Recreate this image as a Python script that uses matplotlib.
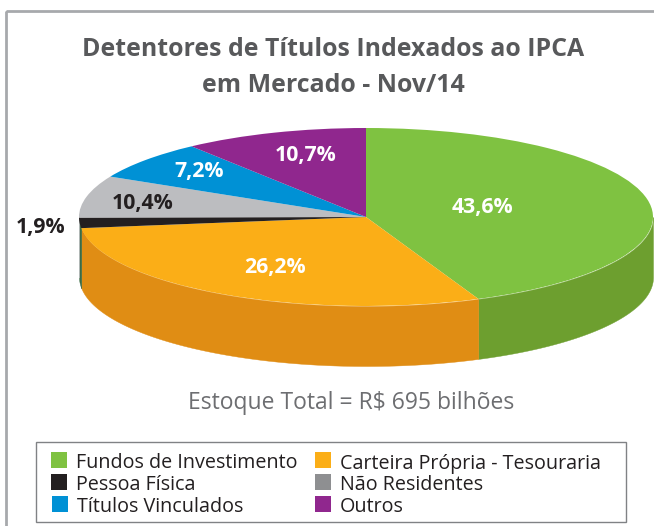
import numpy as np
import matplotlib
matplotlib.use("Agg")
import matplotlib.pyplot as plt
from matplotlib.patches import Rectangle

W = 654
H = 526

plt.rcParams['font.family'] = ['Open Sans', 'DejaVu Sans']

categorias = ["Fundos de Investimento", "Carteira Própria - Tesouraria", "Pessoa Física",
              "Não Residentes", "Títulos Vinculados", "Outros"]
rotulos = ["43,6%", "26,2%", "1,9%", "10,4%", "7,2%", "10,7%"]
# the slices in the picture are not quite proportional to the printed labels
fatias = [43.6, 29.4, 1.9, 7.6, 7.1, 10.4]
cores = ["#7FC241", "#FBAE17", "#231F20", "#BCBDC0", "#0091D5", "#90278E"]
cores_lateral = ["#6D9F2F", "#E08D14", "#3B6B45", "#BCBDC0", "#0091D5", "#90278E"]
cores_legenda = ["#7FC241", "#FBAE17", "#231F20", "#8E8F91", "#0091D5", "#90278E"]

fig = plt.figure(figsize=(W/100, H/100), dpi=100)

# background axes in pixels for frame, texts, legend
bg = fig.add_axes([0, 0, 1, 1])
bg.set_xlim(0, W)
bg.set_ylim(H, 0)
bg.axis('off')

bg.add_patch(Rectangle((6, 11), 720, 620, fill=False, ec="#A7A9AC", lw=2))

bg.text(333.5, 49, "Detentores de Títulos Indexados ao IPCA", ha='center', va='center',
        fontsize=17.9, fontweight='bold', color="#58595B")
bg.text(333.5, 85, "em Mercado - Nov/14", ha='center', va='center',
        fontsize=17.9, fontweight='bold', color="#58595B")
bg.text(351.5, 403, "Estoque Total = R$ 695 bilhões", ha='center', va='center',
        fontsize=16.5, color="#6D6E71")

# pie axes: unit circle squashed to the ellipse of the top face
px0, px1, py0, py1 = 79, 653, 128, 306
ax = fig.add_axes([px0/W, 1-py1/H, (px1-px0)/W, (py1-py0)/H])
ax.pie(fatias, colors=cores, startangle=90, counterclock=False, radius=1,
       wedgeprops={'linewidth': 0})
ax.set_aspect('auto')
ax.set_xlim(-1, 1)
ax.set_ylim(-1, 1)
for p in ax.patches:
    p.set_clip_on(False)

# side wall of the disc, only the front half shows
prof = 60/((py1-py0)/2)
lim = np.cumsum([0]+fatias)*3.6
for i in range(len(fatias)):
    a0 = max(lim[i], 90)
    a1 = min(lim[i+1], 270)
    if a1 <= a0:
        continue
    t = np.radians(np.linspace(a0, a1, 80))
    x = np.sin(t)
    y = np.cos(t)
    ax.fill_between(x, y-prof, y, color=cores_lateral[i], lw=0.3, clip_on=False, zorder=0.5)

pos_rotulos = [(482, 207), (275, 268), (41, 228), (143, 203), (199, 172), (306, 155)]
cor_rot = ["white", "white", "#231F20", "#231F20", "white", "white"]
for r, (x, y), c in zip(rotulos, pos_rotulos, cor_rot):
    bg.text(x, y, r, ha='center', va='center', fontsize=15.3, fontweight='bold', color=c)

# legend
bg.add_patch(Rectangle((36, 442), 590, 80, fill=False, ec="#808285", lw=1))
bg.set_zorder(2)
ax.set_zorder(1)
leg_x = [51, 315, 51, 315, 52, 315]
leg_y = [460, 460, 482, 482, 504, 504]
for i in range(6):
    bg.add_patch(Rectangle((leg_x[i], leg_y[i]-8), 16, 16, fc=cores_legenda[i], ec='none'))
    bg.text(leg_x[i]+25, leg_y[i]+3.5, categorias[i], ha='left', va='center',
            fontsize=14.2, color="#231F20")

fig.savefig("out.png", dpi=100, facecolor='white')
